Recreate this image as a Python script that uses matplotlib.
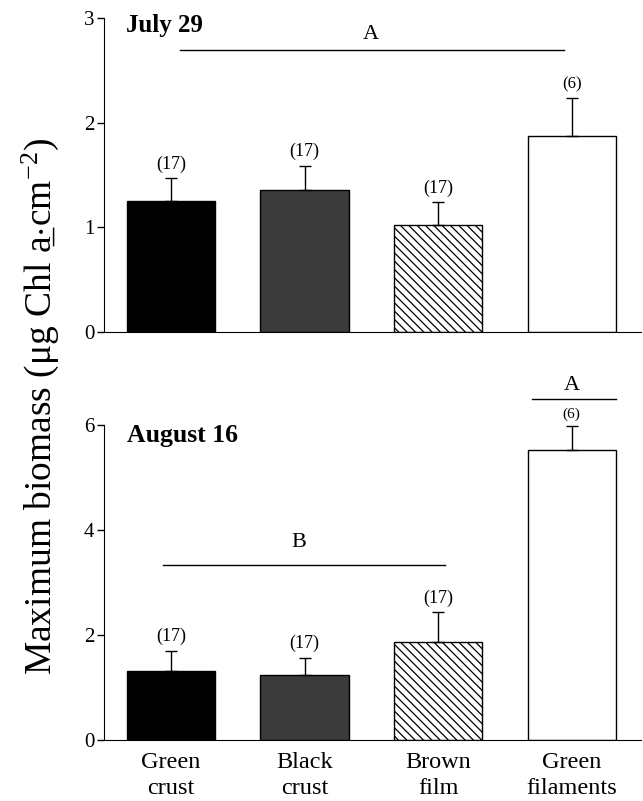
import matplotlib
matplotlib.use("Agg")
from matplotlib import pyplot

categories = ["Green\ncrust", "Black\ncrust", "Brown\nfilm", "Green\nfilaments"]
n_labels = ["(17)", "(17)", "(17)", "(6)"]

july_mean = [1.25, 1.36, 1.02, 1.87]
july_err = [0.22, 0.23, 0.22, 0.37]

aug_mean = [1.31, 1.23, 1.86, 5.52]
aug_err = [0.39, 0.34, 0.58, 0.46]

fills = ["black", "#3b3b3b", "white", "white"]
hatches = [None, None, "\\\\\\\\", None]


def draw_panel(ax, mean, err, top, n_offset, n_size):
    x = range(len(mean))
    for i in x:
        ax.bar(i, mean[i], width=0.66, color=fills[i], edgecolor="black",
               linewidth=1.0, hatch=hatches[i], zorder=2)
        ax.errorbar(i, mean[i], yerr=[[0], [err[i]]], fmt="none", ecolor="black",
                    elinewidth=1.0, capsize=4, capthick=1.0, zorder=3)
        ax.text(i, mean[i] + err[i] + n_offset, n_labels[i], ha="center", va="bottom",
                fontsize=n_size[i])
    ax.set_xlim(-0.5, 3.52)
    ax.set_ylim(0, top)
    ax.spines["top"].set_visible(False)
    ax.spines["right"].set_visible(False)
    ax.tick_params(axis="x", length=0)
    ax.tick_params(axis="y", length=5, width=1, labelsize=15, pad=2)


def main():
    pyplot.rcParams["font.family"] = ["Liberation Serif", "DejaVu Serif"]
    pyplot.rcParams["mathtext.fontset"] = "custom"
    pyplot.rcParams["mathtext.rm"] = "Liberation Serif"
    pyplot.rcParams["mathtext.it"] = "Liberation Serif:italic"
    pyplot.rcParams["hatch.linewidth"] = 0.9

    fig = pyplot.figure(figsize=[6.43, 8.01], dpi=100)
    ax1 = fig.add_axes([0.162, 0.5855, 0.835, 0.392])
    ax2 = fig.add_axes([0.162, 0.0762, 0.835, 0.3932])

    draw_panel(ax1, july_mean, july_err, 3, 0.05, [13, 13, 13, 12])
    ax1.set_yticks([0, 1, 2, 3])
    ax1.set_xticks([])
    ax1.text(-0.34, 3.04, "July 29", fontsize=18, fontweight="bold", va="top")
    ax1.plot([0.07, 2.94], [2.69, 2.69], color="black", lw=1.0)
    ax1.text(1.5, 2.75, "A", ha="center", va="bottom", fontsize=16)

    draw_panel(ax2, aug_mean, aug_err, 6, 0.1, [13, 13, 13, 11])
    ax2.set_yticks([0, 2, 4, 6])
    ax2.set_xticks(range(4))
    ax2.set_xticklabels(categories, fontsize=17.5, linespacing=1.3)
    ax2.tick_params(axis="x", pad=9)
    ax2.text(-0.33, 6.02, "August 16", fontsize=18.5, fontweight="bold", va="top")
    ax2.plot([-0.06, 2.05], [3.33, 3.33], color="black", lw=1.0)
    ax2.text(0.96, 3.58, "B", ha="center", va="bottom", fontsize=16)
    ax2.plot([2.7, 3.33], [6.5, 6.5], color="black", lw=1.0, clip_on=False)
    ax2.text(3.0, 6.58, "A", ha="center", va="bottom", fontsize=16)

    fig.text(0.062, 0.492,
             r"Maximum biomass ($\mathrm{\mu}$g Chl a\u0332$\cdot$cm$^{\mathrm{-2}}$)".replace("\\u0332", "\u0332"),
             rotation=90, ha="center", va="center", fontsize=27)

    fig.savefig("out.png", dpi=100)


if __name__ == '__main__':
    main()
